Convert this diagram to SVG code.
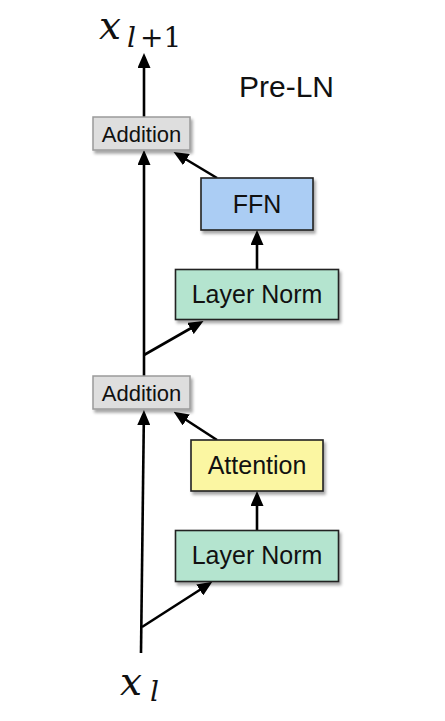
<svg xmlns="http://www.w3.org/2000/svg" width="445" height="721" viewBox="0 0 445 721">
<defs>
<style>
.lbl{font-family:"Liberation Sans",Arial,sans-serif;fill:#111;text-anchor:middle}
.box{stroke:#222;stroke-width:1.6}
.add{fill:#dedede;stroke:#9a9a9a;stroke-width:1.5}
.conn{stroke:#000;stroke-width:2.6;fill:none;marker-end:url(#arr)}
.math{font-family:"DejaVu Serif","Liberation Serif",serif;fill:#111}
</style>
<marker id="arr" markerUnits="userSpaceOnUse" markerWidth="15" markerHeight="13" viewBox="0 0 15 13" refX="11" refY="6.5" orient="auto">
<path d="M0,0 L15,6.5 L0,13 z" fill="#000"/>
</marker>
<filter id="sh" x="-10%" y="-20%" width="130%" height="160%">
<feDropShadow dx="2" dy="3" stdDeviation="1.8" flood-color="#000" flood-opacity="0.35"/>
</filter>
</defs>
<rect width="445" height="721" fill="#fff"/>

<g id="connectors">
<line class="conn" x1="141" y1="653" x2="143.9" y2="414"/>
<line class="conn" x1="142" y1="627" x2="209" y2="584"/>
<line class="conn" x1="257" y1="530" x2="257" y2="495"/>
<line class="conn" x1="217" y1="440" x2="177" y2="414"/>
<line class="conn" x1="144" y1="376" x2="144" y2="154"/>
<line class="conn" x1="144" y1="355" x2="200" y2="323"/>
<line class="conn" x1="257" y1="269" x2="257" y2="234"/>
<line class="conn" x1="217" y1="178" x2="177" y2="154"/>
<line class="conn" x1="144" y1="118" x2="144" y2="57"/>
</g>

<g id="x_out">
<text class="math" x="99" y="39" font-size="39" font-style="italic">x</text>
<text class="math" x="127" y="47" font-size="28" font-style="italic">l</text>
<text class="math" x="140" y="47" font-size="28">+1</text>
</g>

<g id="pre_ln">
<text x="239" y="97" font-family="'Liberation Sans',Arial,sans-serif" font-size="30" fill="#111">Pre-LN</text>
</g>

<g id="addition_top">
<rect class="add" x="93" y="117" width="97" height="33" filter="url(#sh)"/>
<text class="lbl" x="141.5" y="142" font-size="22">Addition</text>
</g>

<g id="ffn">
<rect class="box" x="201" y="178" width="112" height="52" fill="#abcdf4" filter="url(#sh)"/>
<text class="lbl" x="257" y="213" font-size="25">FFN</text>
</g>

<g id="layernorm_top">
<rect class="box" x="175.5" y="269.5" width="163" height="50" fill="#b4e4cf" filter="url(#sh)"/>
<text class="lbl" x="257" y="302.5" font-size="25">Layer Norm</text>
</g>

<g id="addition_bottom">
<rect class="add" x="93" y="376" width="97" height="33" filter="url(#sh)"/>
<text class="lbl" x="141.5" y="401" font-size="22">Addition</text>
</g>

<g id="attention">
<rect class="box" x="191" y="440" width="132" height="51" fill="#fbf6a2" filter="url(#sh)"/>
<text class="lbl" x="257" y="474" font-size="25">Attention</text>
</g>

<g id="layernorm_bottom">
<rect class="box" x="175.5" y="530.5" width="163" height="51" fill="#b4e4cf" filter="url(#sh)"/>
<text class="lbl" x="257" y="564" font-size="25">Layer Norm</text>
</g>

<g id="x_in">
<text class="math" x="120" y="695" font-size="39" font-style="italic">x</text>
<text class="math" x="150" y="701" font-size="28" font-style="italic">l</text>
</g>
</svg>
